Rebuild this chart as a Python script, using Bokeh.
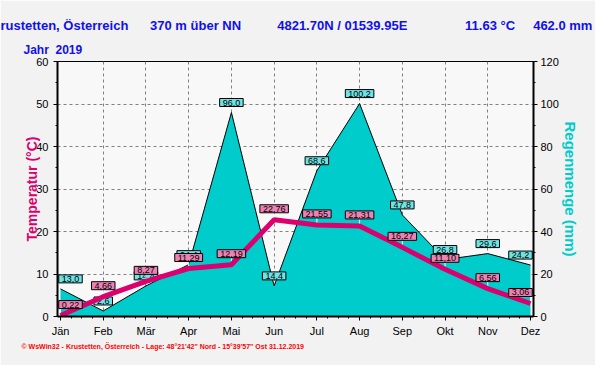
from bokeh.plotting import figure
from bokeh.models import Range1d, LinearAxis, FixedTicker, Title, ColumnDataSource
from bokeh.core.properties import value
from bokeh.embed import file_html
from bokeh.resources import INLINE

months = ["Jän", "Feb", "Mär", "Apr", "Mai", "Jun", "Jul", "Aug", "Sep", "Okt", "Nov", "Dez"]
temperature = [0.22, 4.66, 8.27, 11.29, 12.19, 22.76, 21.55, 21.31, 16.27, 11.10, 6.56, 3.06]
rain = [13.0, 2.6, 14.4, 24.4, 96.0, 14.4, 68.6, 100.2, 47.8, 26.8, 29.6, 24.2]
temp_ticks = [0, 10, 20, 30, 40, 50, 60]
rain_ticks = [0, 20, 40, 60, 80, 100, 120]
header = ["rustetten, Österreich", "370 m über NN", "4821.70N / 01539.95E", "11.63 °C", "462.0 mm"]
header_gaps = [6, 10, 16, 5]          # spacing between header parts (in spaces)
year_text = "Jahr  2019"
footer = "© WsWin32 - Krustetten, Österreich - Lage: 48°21'42\" Nord - 15°39'57\" Ost  31.12.2019"
temp_title = "Temperatur (°C)"
rain_title = "Regenmenge (mm)"

W, H = 595, 365
LEFT, TOP, RIGHT, BOTTOM = 57, 61, 533, 316   # frame edges in page pixels
FONT = "Liberation Sans"
TEMP_COL = "#DC006E"
RAIN_COL = "#00CCCC"
BLUE = "#1010E8"
NB = "\u00a0"

idx = list(range(len(months)))
pad = 3 / ((RIGHT - LEFT - 6) / (len(months) - 1))
p = figure(width=W, height=H, output_backend="svg", toolbar_location=None, title=None,
           x_range=Range1d(idx[0] - pad, idx[-1] + pad),
           y_range=Range1d(temp_ticks[0], temp_ticks[-1]),
           min_border_left=LEFT, min_border_right=W - RIGHT, min_border_top=TOP,
           min_border_bottom=H - BOTTOM,
           border_fill_color="#F2F2F2", background_fill_color="#F8F8F8",
           outline_line_color="black", outline_line_width=1)
p.extra_y_ranges = {"rain": Range1d(rain_ticks[0], rain_ticks[-1])}

# axes
p.xaxis.ticker = FixedTicker(ticks=idx, minor_ticks=[i + k / 4 for i in idx[:-1] for k in (1, 2, 3)])
p.xaxis.major_label_overrides = {i: m for i, m in enumerate(months)}
p.yaxis.ticker = FixedTicker(ticks=temp_ticks, minor_ticks=[t + 5 for t in temp_ticks[:-1]])
ax_r = LinearAxis(y_range_name="rain",
                  ticker=FixedTicker(ticks=rain_ticks, minor_ticks=[r + 10 for r in rain_ticks[:-1]]))
p.add_layout(ax_r, "right")
for ax in (p.xaxis[0], p.yaxis[0], ax_r):
    ax.axis_line_width = 2
    ax.axis_line_color = "black"
    ax.major_tick_out = 4
    ax.major_tick_in = 0
    ax.minor_tick_out = 2
    ax.minor_tick_in = 0
    ax.major_label_text_font = FONT
    ax.major_label_text_font_size = "11px"
    ax.major_label_text_color = "black"
    ax.axis_label_text_font = FONT
    ax.axis_label_text_font_style = "bold"
p.xaxis.major_label_standoff = 4
p.yaxis.major_label_standoff = 5
ax_r.major_label_standoff = 3

p.yaxis.axis_label = temp_title
p.yaxis.axis_label_text_color = TEMP_COL
p.yaxis.axis_label_text_font_size = "14px"
p.yaxis.axis_label_standoff = -7
ax_r.axis_label = rain_title
ax_r.axis_label_text_color = RAIN_COL
ax_r.axis_label_text_font_size = "15px"
ax_r.axis_label_standoff = 0

# grid
p.xgrid.ticker = FixedTicker(ticks=idx[1:-1])
p.ygrid.ticker = FixedTicker(ticks=temp_ticks[1:-1])
for g in (p.xgrid[0], p.ygrid[0]):
    g.grid_line_color = "#808080"
    g.grid_line_dash = "3 3"
    g.grid_line_width = 1

# rain area
p.varea(x=idx, y1=[0] * len(idx), y2=rain, fill_color=RAIN_COL, y_range_name="rain")
p.line(x=idx, y=rain, line_color="black", line_width=1, y_range_name="rain")

# keep the outermost value boxes inside the frame
edge_shift = [10] + [0] * (len(idx) - 2) + [-10]

rsrc = ColumnDataSource(dict(x=idx, y=rain, dx=edge_shift,
                             t=[f"{v:.1f}".replace(".", ",") for v in rain]))
p.text(x="x", y="y", text="t", source=rsrc, y_range_name="rain", x_offset="dx",
       text_font=value(FONT), text_font_size="9px", text_color="black",
       text_align="center", text_baseline="bottom", y_offset=-6,
       background_fill_color="#6FE4E4", border_line_color="black", border_line_width=1,
       padding=(3, 1))

# white ticks under temperature labels
tick_len = 7 * (temp_ticks[-1] - temp_ticks[0]) / (BOTTOM - TOP)
p.segment(x0=idx, y0=temperature, x1=idx, y1=[t + tick_len for t in temperature],
          line_color="white", line_width=1)

# temperature line
p.line(x=idx, y=temperature, line_color=TEMP_COL, line_width=5)

tsrc = ColumnDataSource(dict(x=idx, y=temperature, dx=edge_shift,
                             t=[f"{v:.2f}".replace(".", ",") for v in temperature]))
p.text(x="x", y="y", text="t", source=tsrc, x_offset="dx",
       text_font=value(FONT), text_font_size="9px", text_color="black",
       text_align="center", text_baseline="bottom", y_offset=-7,
       background_fill_color="#EE82B4", border_line_color="black", border_line_width=1,
       padding=(3, 1))

# titles (side panels are not clipped)
header_text = header[0]
for gap, part in zip(header_gaps, header[1:]):
    header_text += NB * gap + part

p.add_layout(Title(text=year_text.replace(" ", NB), align="left", offset=23 - LEFT, standoff=9,
                   text_font=FONT, text_font_size="12px", text_font_style="bold",
                   text_color=BLUE), "above")
p.add_layout(Title(text=header_text, align="left", offset=0 - LEFT, standoff=7,
                   text_font=FONT, text_font_size="13px", text_font_style="bold",
                   text_color=BLUE), "above")
p.add_layout(Title(text=footer, align="left", offset=21 - LEFT, standoff=3,
                   text_font=FONT, text_font_size="7px", text_font_style="bold",
                   text_color="#FF0000"), "below")

open("out.html", "w").write(file_html(p, INLINE))
